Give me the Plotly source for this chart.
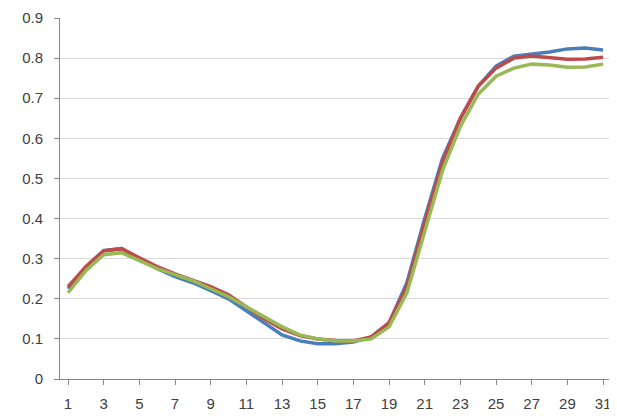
import plotly.graph_objects as go

x = list(range(1, 32))
blue = [0.225,0.28,0.32,0.325,0.30,0.275,0.255,0.24,0.22,0.20,0.17,0.14,0.11,0.095,0.088,0.088,0.092,0.105,0.14,0.24,0.40,0.55,0.65,0.73,0.78,0.805,0.81,0.815,0.823,0.825,0.82]
red = [0.23,0.28,0.32,0.325,0.302,0.28,0.262,0.247,0.23,0.21,0.18,0.15,0.125,0.108,0.10,0.096,0.095,0.105,0.14,0.23,0.39,0.54,0.65,0.73,0.775,0.80,0.805,0.80,0.797,0.798,0.802]
green = [0.215,0.27,0.31,0.315,0.295,0.275,0.26,0.245,0.225,0.205,0.18,0.155,0.13,0.11,0.10,0.095,0.095,0.10,0.13,0.215,0.37,0.52,0.63,0.71,0.755,0.775,0.785,0.783,0.777,0.778,0.785]
yticks = [0,0.1,0.2,0.3,0.4,0.5,0.6,0.7,0.8,0.9]
ylabels = ["0","0.1","0.2","0.3","0.4","0.5","0.6","0.7","0.8","0.9"]

fig = go.Figure()
for ys, c in [(blue, "#4a7ebb"), (red, "#be4b48"), (green, "#98b954")]:
    fig.add_trace(go.Scatter(x=x, y=ys, mode="lines", line=dict(color=c, width=3.5), showlegend=False))

fig.update_layout(
    width=617, height=416, plot_bgcolor="white", paper_bgcolor="white",
    margin=dict(l=52, r=10, t=10, b=45),
    font=dict(family="Liberation Sans, Arial", size=15, color="#404040"),
)
fig.update_xaxes(range=[0.55, 31.67], tickmode="array", tickvals=list(range(1, 32, 2)),
                 showgrid=False, showline=True, linecolor="#868686", ticks="outside",
                 tickcolor="#868686", ticklen=5, zeroline=False, automargin=False,
                 ticklabelstandoff=6)
fig.update_yaxes(range=[0, 0.9], tickmode="array", tickvals=yticks, ticktext=ylabels,
                 showgrid=True, gridcolor="#d9d9d9", showline=True, linecolor="#868686",
                 ticks="outside", tickcolor="#868686", ticklen=5, zeroline=False,
                 ticklabelstandoff=8, automargin=False)
fig.write_html("out.html")
